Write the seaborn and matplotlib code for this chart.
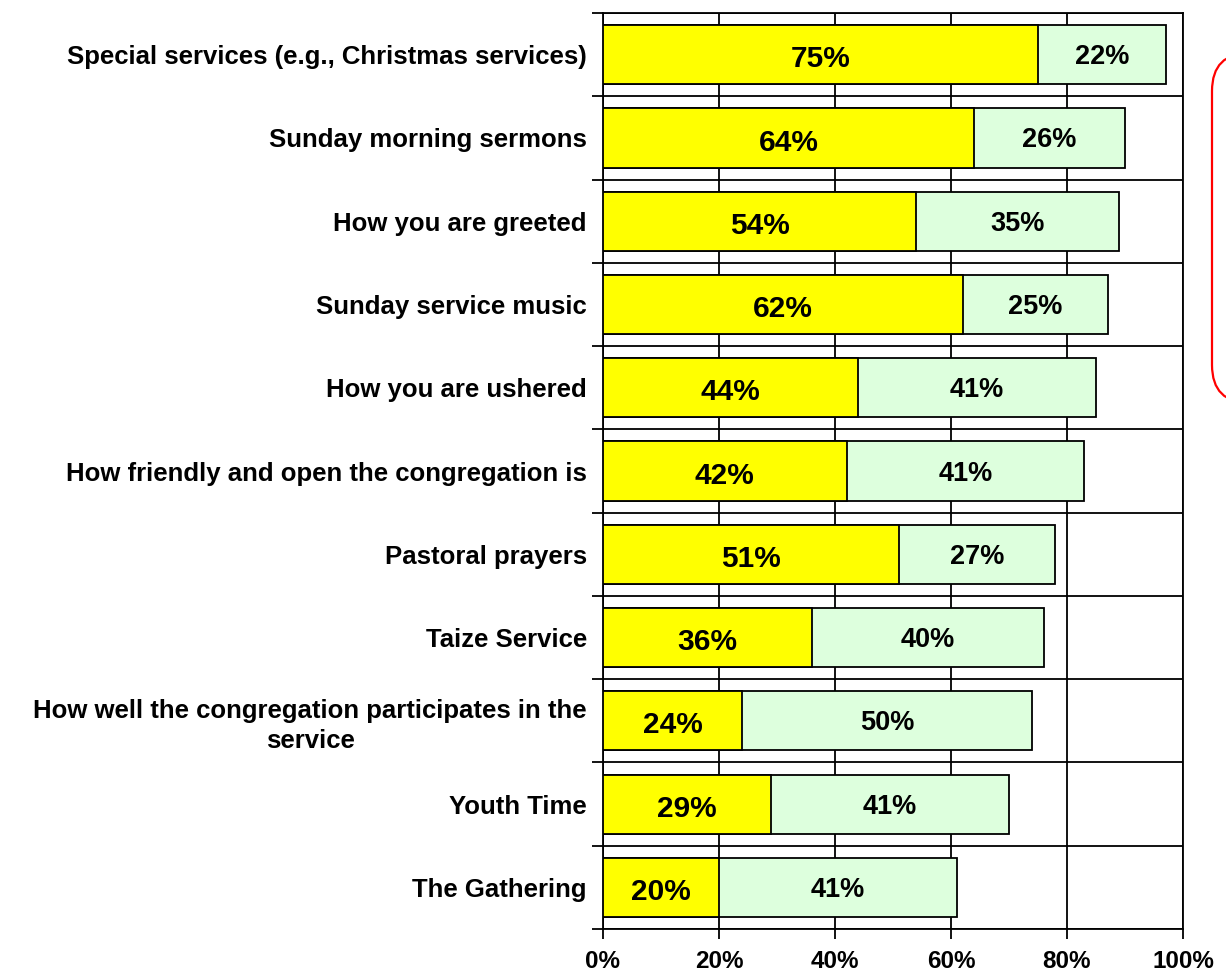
import matplotlib
matplotlib.use("Agg")
import matplotlib.pyplot as plt
import matplotlib.transforms as mtransforms
from matplotlib.patches import FancyBboxPatch
import seaborn as sns
import pandas as pd

# Survey items, top to bottom
items = [
    "Special services (e.g., Christmas services)",
    "Sunday morning sermons",
    "How you are greeted",
    "Sunday service music",
    "How you are ushered",
    "How friendly and open the congregation is",
    "Pastoral prayers",
    "Taize Service",
    "How well the congregation participates in the\nservice",
    "Youth Time",
    "The Gathering",
]
# Share of respondents (percent) for the first and second response groups
first_share = [75, 64, 54, 62, 44, 42, 51, 36, 24, 29, 20]
second_share = [22, 26, 35, 25, 41, 41, 27, 40, 50, 41, 41]
x_ticks = [0, 20, 40, 60, 80, 100]
x_tick_labels = ["0%", "20%", "40%", "60%", "80%", "100%"]

YELLOW = "#FFFF00"
MINT = "#DDFFDD"

sns.set_style("white")
plt.rcParams["font.family"] = ["Liberation Sans", "DejaVu Sans"]
plt.rcParams["font.weight"] = "bold"
plt.rcParams["text.color"] = "black"
plt.rcParams["xtick.color"] = "black"
plt.rcParams["ytick.color"] = "black"

df = pd.DataFrame({"item": items, "first": first_share, "second": second_share})
df["total"] = df["first"] + df["second"]

fig = plt.figure(figsize=(12.26, 9.73), dpi=100)
ax = fig.add_axes([0.4918, 0.0452, 0.4731, 0.9414])

# Stacked bars: full length in mint, first group overlaid in yellow
sns.barplot(data=df, x="total", y="item", order=items, color=MINT,
            saturation=1, width=0.71, edgecolor="black", linewidth=1.3,
            ax=ax, zorder=3)
sns.barplot(data=df, x="first", y="item", order=items, color=YELLOW,
            saturation=1, width=0.71, edgecolor="black", linewidth=1.3,
            ax=ax, zorder=4)

for i, (a, b) in enumerate(zip(first_share, second_share)):
    ax.text(a / 2, i + 0.055, f"{a}%", ha="center", va="center",
            fontsize=21.5, fontweight="bold", color="black", zorder=6)
    ax.text(a + b / 2, i + 0.03, f"{b}%", ha="center", va="center",
            fontsize=19.5, fontweight="bold", color="black", zorder=6)

ax.set_xlim(0, 100)
ax.set_ylim(len(items) - 0.5, -0.5)
ax.set_xlabel("")
ax.set_ylabel("")

ax.set_xticks(x_ticks)
ax.set_xticklabels(x_tick_labels, fontsize=17.5, fontweight="bold")
ax.set_yticks(range(len(items)))
ax.set_yticklabels(items, fontsize=18.5, fontweight="bold")
for lbl in ax.get_yticklabels():
    lbl.set_multialignment("center")
    lbl.set_linespacing(1.3)
    if "\n" in lbl.get_text():
        lbl.set_transform(lbl.get_transform() + mtransforms.ScaledTranslation(
            0, 8 / 100, fig.dpi_scale_trans))

# Category boundaries carry the horizontal rules and the left tick marks
ax.set_yticks([i - 0.5 for i in range(len(items) + 1)], minor=True)
ax.tick_params(axis="y", which="major", length=0, pad=11.5,
               labelcolor="black")
ax.tick_params(axis="y", which="minor", length=8, width=1.3,
               direction="out", color="black", left=True)
ax.tick_params(axis="x", which="major", length=7, width=1.3,
               direction="out", color="black", bottom=True, pad=8,
               labelcolor="black")

ax.grid(False)
ax.xaxis.grid(True, color="black", linewidth=1.3, zorder=0)
ax.yaxis.grid(True, which="minor", color="black", linewidth=1.3, zorder=0)
ax.set_axisbelow(True)
for sp in ax.spines.values():
    sp.set_visible(True)
    sp.set_color("black")
    sp.set_linewidth(1.3)

# Framed legend panel at the right edge
panel = FancyBboxPatch((12.12, 5.70), 1.2, 3.50,
                       boxstyle="round,pad=0,rounding_size=0.38",
                       transform=fig.dpi_scale_trans, facecolor="white",
                       edgecolor="red", linewidth=1.6, clip_on=False)
fig.patches.append(panel)

fig.savefig("out.png", dpi=100)
